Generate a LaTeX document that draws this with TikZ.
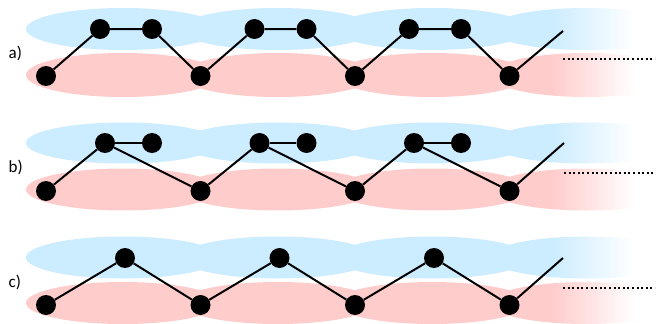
\documentclass[tikz,border=0pt]{standalone}
\usepackage{fontspec}
\setmainfont{Carlito}
\definecolor{bandblue}{RGB}{204,236,255}
\definecolor{bandpink}{RGB}{255,204,204}
\tikzset{
  atom/.style={circle,fill=black,inner sep=0pt,minimum size=20pt},
  bond/.style={line width=2pt,black},
  dotline/.style={line width=2pt,black,dash pattern=on 2pt off 2.6pt},
  rowlabel/.style={anchor=base west,inner sep=0pt,font=\fontsize{17}{20}\selectfont},
}
% one band of four overlapping ellipses; the last one fades out to the right
\newcommand\chainband[3]{%
  \foreach \k in {0,1,2}{\fill[#1] (123+154.5*\k,#2) ellipse (97 and #3);}
  \begin{scope}
    \clip (586.5,#2) ellipse (97 and #3);
    \fill[#1] (480,#2-#3-1) rectangle (552,#2+#3+1);
    \shade[left color=#1,right color=white] (552,#2-#3-1) rectangle (635,#2+#3+1);
  \end{scope}}
\begin{document}
\begin{tikzpicture}[x=1pt,y=-1pt]
\useasboundingbox (0,0) rectangle (662,324);
\fill[white] (0,0) rectangle (662,324);

% background bands
\chainband{bandblue}{29}{21}
\chainband{bandpink}{75}{22}
\chainband{bandblue}{143}{20.5}
\chainband{bandpink}{189.5}{21}
\chainband{bandblue}{257.5}{21}
\chainband{bandpink}{303}{21}

% labels
\node[rowlabel] (la) at (8.5,58) {a)};
\node[rowlabel] (lb) at (8.5,172) {b)};
\node[rowlabel] (lc) at (8.5,287) {c)};

% ---- row a: paired upper atoms, both bonded down
\foreach \k in {0,1,2,3}{\node[atom] (ap\k) at (46+154.5*\k,76) {};}
\foreach \k in {0,1,2}{
  \node[atom] (aL\k) at (100+154.5*\k,29) {};
  \node[atom] (aR\k) at (152+154.5*\k,29) {};}
\coordinate (aend) at (563,31);
\coordinate (ads) at (563,59);
\coordinate (ade) at (655,59);
\foreach \k [evaluate=\k as \n using int(\k+1)] in {0,1,2}{
  \draw[bond] (ap\k) -- (aL\k) -- (aR\k) -- (ap\n);}
\draw[bond] (ap3) -- (aend);
\draw[dotline] (ads) -- (ade);

% ---- row b: paired upper atoms, left one carries both bonds
\foreach \k in {0,1,2,3}{\node[atom] (bp\k) at (46+154.5*\k,191) {};}
\foreach \k in {0,1,2}{
  \node[atom] (bL\k) at (105+154.5*\k,143) {};
  \node[atom] (bR\k) at (152+154.5*\k,143) {};}
\coordinate (bend) at (564,143);
\coordinate (bds) at (564,173);
\coordinate (bde) at (655,173);
\foreach \k [evaluate=\k as \n using int(\k+1)] in {0,1,2}{
  \draw[bond] (bp\k) -- (bL\k) -- (bp\n);
  \draw[bond] (bL\k) -- (bR\k);}
\draw[bond] (bp3) -- (bend);
\draw[dotline] (bds) -- (bde);

% ---- row c: single upper atoms
\foreach \k in {0,1,2,3}{\node[atom] (cp\k) at (46+154.5*\k,305) {};}
\foreach \k in {0,1,2}{\node[atom] (cT\k) at (125+154.5*\k,258) {};}
\coordinate (cend) at (563,258);
\coordinate (cds) at (563,288);
\coordinate (cde) at (655,288);
\foreach \k [evaluate=\k as \n using int(\k+1)] in {0,1,2}{
  \draw[bond] (cp\k) -- (cT\k) -- (cp\n);}
\draw[bond] (cp3) -- (cend);
\draw[dotline] (cds) -- (cde);
\end{tikzpicture}
\end{document}
